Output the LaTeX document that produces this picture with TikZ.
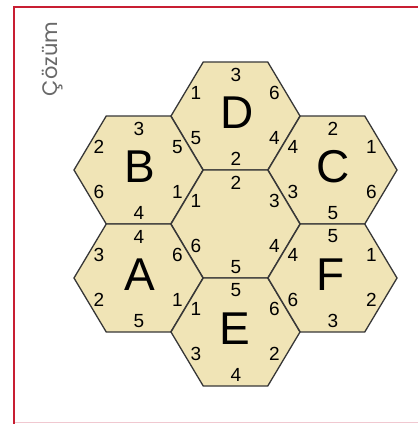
\documentclass[tikz,border=0pt]{standalone}
\usepackage{fontspec}
\setmainfont{Liberation Sans}
\newfontfamily\titlefont{Poppins}
\definecolor{hexfill}{RGB}{240,228,182}
\definecolor{hexline}{RGB}{55,55,55}
\definecolor{framered}{RGB}{200,30,50}
\definecolor{framepink}{RGB}{240,200,208}
\definecolor{titlegray}{RGB}{105,105,105}
\begin{document}
\begin{tikzpicture}[x=1pt,y=-1pt,
  hexcell/.style={fill=hexfill,draw=hexline,line width=1.3pt,line join=miter},
  numlabel/.style={inner sep=0pt,font=\fontsize{19}{19}\selectfont,text=black},
  bigletter/.style={inner sep=0pt,font=\fontsize{46}{46}\selectfont,text=black},
  frameline/.style={draw=framered,line width=2.6pt},
  framebottom/.style={draw=framepink,line width=1pt},
  titletext/.style={inner sep=0pt,rotate=90,text=titlegray,font=\titlefont\fontsize{21}{21}\selectfont}]
\useasboundingbox (0,0) rectangle (418,424);
\fill[white] (0,0) rectangle (418,424);
% frame
\coordinate (fbl) at (14,424);
\coordinate (ftl) at (14,7);
\coordinate (ftr) at (418,7);
\coordinate (bbl) at (15,422.5);
\coordinate (bbr) at (418,422.5);
\draw[framebottom] (bbl) -- (bbr);
\draw[frameline] (fbl) -- (ftl) -- (ftr);
% title
\node[titletext] (title) at (53,59) {Çözüm};
% hexagons
\foreach \nm/\cx/\cy/\pT/\pUR/\pLR/\pB/\pLL/\pUL in {
  D/235.5/116/3/6/4/2/5/1,
  B/138.5/170/3/5/1/4/6/2,
  C/332.5/170/2/1/6/5/3/4,
  M/235.5/224/2/3/4/5/6/1,
  A/138.5/278/4/6/1/5/2/3,
  E/235.5/332/5/6/2/4/3/1,
  F/332.5/278/5/1/2/3/6/4}{
  \coordinate (\nm) at (\cx,\cy);
  \draw[hexcell] (\cx-64.5,\cy) -- (\cx-32.25,\cy-54) -- (\cx+32.25,\cy-54)
     -- (\cx+64.5,\cy) -- (\cx+32.25,\cy+54) -- (\cx-32.25,\cy+54) -- cycle;
  \node[numlabel] (\nm-t)  at (\cx+0.5,\cy-41.5) {\pT};
  \node[numlabel] (\nm-ur) at (\cx+39,\cy-23) {\pUR};
  \node[numlabel] (\nm-lr) at (\cx+39,\cy+22) {\pLR};
  \node[numlabel] (\nm-b)  at (\cx+0.5,\cy+43) {\pB};
  \node[numlabel] (\nm-ll) at (\cx-39.5,\cy+22) {\pLL};
  \node[numlabel] (\nm-ul) at (\cx-39.5,\cy-23) {\pUL};
}
% letters
\node[bigletter] (D-l) at (237,113) {D};
\node[bigletter] (B-l) at (140,167) {B};
\node[bigletter] (C-l) at (333,167) {C};
\node[bigletter] (A-l) at (140,275) {A};
\node[bigletter] (E-l) at (235,329) {E};
\node[bigletter] (F-l) at (331,275) {F};
\end{tikzpicture}
\end{document}
